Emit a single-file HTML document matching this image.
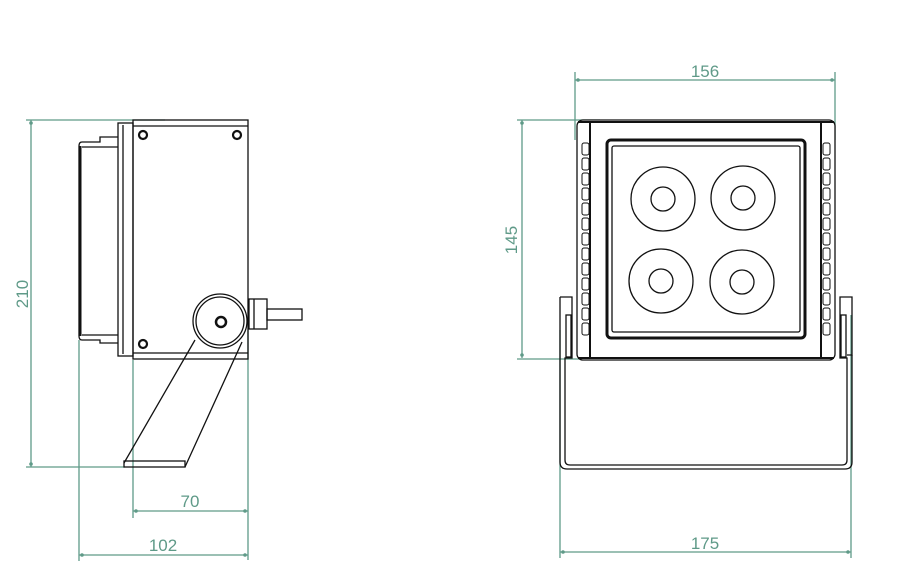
<!DOCTYPE html>
<html><head><meta charset="utf-8"><style>html,body{margin:0;padding:0;background:#fff}svg{display:block}</style></head><body>
<svg width="923" height="569" viewBox="0 0 923 569" xmlns="http://www.w3.org/2000/svg">
<g stroke="#5f9a88" stroke-width="1.3" fill="none">
<!-- 210 -->
<line x1="31" y1="120" x2="31" y2="467"/>
<line x1="26" y1="120" x2="165" y2="120"/>
<line x1="26" y1="467" x2="125" y2="467"/>
<!-- 70 -->
<line x1="133" y1="360" x2="133" y2="518"/>
<line x1="248" y1="330" x2="248" y2="560"/>
<line x1="133" y1="511" x2="248" y2="511"/>
<!-- 102 -->
<line x1="79" y1="340" x2="79" y2="561"/>
<line x1="79" y1="555" x2="248" y2="555"/>
<!-- 156 -->
<line x1="575" y1="72" x2="575" y2="140"/>
<line x1="835" y1="72" x2="835" y2="140"/>
<line x1="575" y1="80" x2="835" y2="80"/>
<!-- 145 -->
<line x1="522" y1="120" x2="522" y2="358"/>
<line x1="517" y1="120" x2="600" y2="120"/>
<line x1="517" y1="359" x2="595" y2="359"/>
<!-- 175 -->
<line x1="560" y1="330" x2="560" y2="558"/>
<line x1="851" y1="315" x2="851" y2="558"/>
<line x1="560" y1="552" x2="851" y2="552"/>
</g>
<g fill="#5f9a88">
<circle cx="31" cy="123" r="1.8"/><circle cx="31" cy="464" r="1.8"/>
<circle cx="136" cy="511" r="1.8"/><circle cx="245" cy="511" r="1.8"/>
<circle cx="82" cy="555" r="1.8"/><circle cx="245" cy="555" r="1.8"/>
<circle cx="578" cy="80" r="1.8"/><circle cx="832" cy="80" r="1.8"/>
<circle cx="522" cy="123" r="1.8"/><circle cx="522" cy="355" r="1.8"/>
<circle cx="563" cy="552" r="1.8"/><circle cx="848" cy="552" r="1.8"/>
</g>
<g fill="#5f9a88" font-family="Liberation Sans, sans-serif" font-size="17" text-anchor="middle">
<text x="190" y="507">70</text>
<text x="163" y="551">102</text>
<text x="705" y="77">156</text>
<text x="705" y="549">175</text>
<text transform="translate(28,294) rotate(-90)">210</text>
<text transform="translate(517,240) rotate(-90)">145</text>
</g>
<!-- left view -->
<g stroke="#111" stroke-width="1.3" fill="none">
<path d="M118 137 H100 V142 H82 Q79 142 79 146 V336 Q79 340 82 340 H100 V343 H118"/>
<line x1="80" y1="146" x2="80" y2="336" stroke-width="3"/>
<line x1="82" y1="147" x2="118" y2="147"/>
<line x1="82" y1="335" x2="118" y2="335"/>
<rect x="118" y="123" width="15" height="233"/>
<line x1="123" y1="125" x2="123" y2="354"/>
<rect x="133" y="120" width="115" height="239"/>
<line x1="133" y1="126" x2="248" y2="126"/>
<line x1="133" y1="353" x2="248" y2="353"/>
<circle cx="220" cy="321" r="27" fill="#fff"/>
<circle cx="220" cy="321" r="24"/>
<circle cx="221" cy="322" r="5" stroke-width="2.5"/>
<rect x="249" y="299" width="18" height="30"/>
<line x1="254" y1="299" x2="254" y2="329"/>
<rect x="267" y="309" width="35" height="11"/>
<path d="M195 340 L124 463"/>
<path d="M242 342 L185 467"/>
<rect x="124" y="461" width="61" height="6"/>
</g>
<g fill="#fff" stroke="#111" stroke-width="2.2">
<circle cx="143" cy="135" r="4"/><circle cx="237" cy="135" r="4"/><circle cx="143" cy="344" r="4"/>
</g>
<!-- right view -->
<g stroke="#111" stroke-width="1.3" fill="none">
<path d="M560 297 H572 V358 H565 V460 Q565 465 570 465 H842 Q847 465 847 460 V358 H840 V297 H852 V355 H847"/>
<path d="M560 297 V462 Q560 469 567 469 H845 Q852 469 852 462 V355"/>
<rect x="566" y="315" width="5" height="42"/><rect x="841" y="315" width="5" height="42"/>
<rect x="577" y="120" width="258" height="240" rx="6" fill="#fff"/>
<line x1="578" y1="122" x2="834" y2="122" stroke-width="2"/>
<line x1="578" y1="358" x2="834" y2="358" stroke-width="2"/>
<line x1="590" y1="121" x2="590" y2="359" stroke-width="2"/>
<line x1="821" y1="121" x2="821" y2="359" stroke-width="2"/>
<rect x="607" y="140" width="198" height="198" rx="4" stroke-width="3"/>
<rect x="612" y="146" width="188" height="186" rx="2"/>
<circle cx="663" cy="199" r="32"/><circle cx="663" cy="199" r="12"/>
<circle cx="743" cy="198" r="32"/><circle cx="743" cy="198" r="12"/>
<circle cx="661" cy="281" r="32"/><circle cx="661" cy="281" r="12"/>
<circle cx="742" cy="282" r="32"/><circle cx="742" cy="282" r="12"/>
</g>
<g stroke="#111" stroke-width="1" fill="none" id="fins">
<rect x="582" y="143" width="7" height="12" rx="2"/><rect x="582" y="158" width="7" height="12" rx="2"/>
<rect x="582" y="173" width="7" height="12" rx="2"/><rect x="582" y="188" width="7" height="12" rx="2"/>
<rect x="582" y="203" width="7" height="12" rx="2"/><rect x="582" y="218" width="7" height="12" rx="2"/>
<rect x="582" y="233" width="7" height="12" rx="2"/><rect x="582" y="248" width="7" height="12" rx="2"/>
<rect x="582" y="263" width="7" height="12" rx="2"/><rect x="582" y="278" width="7" height="12" rx="2"/>
<rect x="582" y="293" width="7" height="12" rx="2"/><rect x="582" y="308" width="7" height="12" rx="2"/>
<rect x="582" y="323" width="7" height="12" rx="2"/>
<rect x="823" y="143" width="7" height="12" rx="2"/><rect x="823" y="158" width="7" height="12" rx="2"/>
<rect x="823" y="173" width="7" height="12" rx="2"/><rect x="823" y="188" width="7" height="12" rx="2"/>
<rect x="823" y="203" width="7" height="12" rx="2"/><rect x="823" y="218" width="7" height="12" rx="2"/>
<rect x="823" y="233" width="7" height="12" rx="2"/><rect x="823" y="248" width="7" height="12" rx="2"/>
<rect x="823" y="263" width="7" height="12" rx="2"/><rect x="823" y="278" width="7" height="12" rx="2"/>
<rect x="823" y="293" width="7" height="12" rx="2"/><rect x="823" y="308" width="7" height="12" rx="2"/>
<rect x="823" y="323" width="7" height="12" rx="2"/>
</g>
</svg>
</body></html>
